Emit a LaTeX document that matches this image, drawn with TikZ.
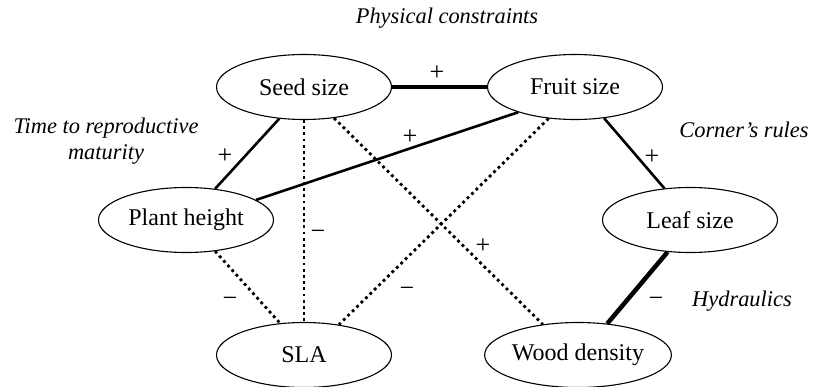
\documentclass[tikz,border=0pt]{standalone}
\usepackage{fontspec}
\setmainfont{Liberation Serif}
\usetikzlibrary{shapes.geometric}
\begin{document}
\begin{tikzpicture}[x=1pt,y=-1pt,
  trait/.style={ellipse,draw,line width=1.1pt,minimum width=175pt,minimum height=65pt,inner sep=0pt,font=\fontsize{24}{28}\selectfont},
  sign/.style={font=\fontsize{26}{30}\selectfont,inner sep=0pt},
  note/.style={font=\fontsize{22.4}{26}\selectfont\itshape,inner sep=0pt,anchor=base},
  strong/.style={line width=4.5pt},
  medium/.style={line width=2.6pt},
  dots/.style={line width=2.8pt,dash pattern=on 2.8pt off 3.4pt}]
\useasboundingbox (0,0) rectangle (813,387);

\node[trait] (seed)  at (304,87)  {Seed size};
\node[trait] (fruit) at (575,87)  {Fruit size};
\node[trait] (plant) at (186,220) {Plant height};
\node[trait] (leaf)  at (690,220) {Leaf size};
\node[trait] (sla)   at (304,355) {SLA};
\node[trait] (wood)  at (578,355) {Wood density};

\draw[strong] (seed) -- (fruit);
\draw[medium] (seed.232) -- (plant.47);
\draw[medium] (plant.16) -- (fruit.204);
\draw[medium] (fruit.313) -- (leaf.129);
\draw[strong] (leaf.235) -- (wood.47);
\draw[dots] (seed.south) -- (sla.north);
\draw[dots] (seed.314) -- (wood.139);
\draw[dots] (fruit.230) -- (sla.41);
\draw[dots] (plant.313) -- (sla.127);

\node[sign] (s1) at (437,73)  {+};
\node[sign] (s2) at (225,156) {+};
\node[sign] (s3) at (410,137) {+};
\node[sign] (s4) at (652,157) {+};
\node[sign] (s5) at (656,302) {−};
\node[sign] (s6) at (318,235) {−};
\node[sign] (s7) at (483,246) {+};
\node[sign] (s8) at (407,292) {−};
\node[sign] (s9) at (230,302) {−};

\node[note] (n1) at (447,24)  {Physical constraints};
\node[note] (n2) at (106,134) {Time to reproductive};
\node[note] (n3) at (106,160) {maturity};
\node[note] (n4) at (744,138) {Corner’s rules};
\node[note] (n5) at (742,306) {Hydraulics};
\end{tikzpicture}
\end{document}
